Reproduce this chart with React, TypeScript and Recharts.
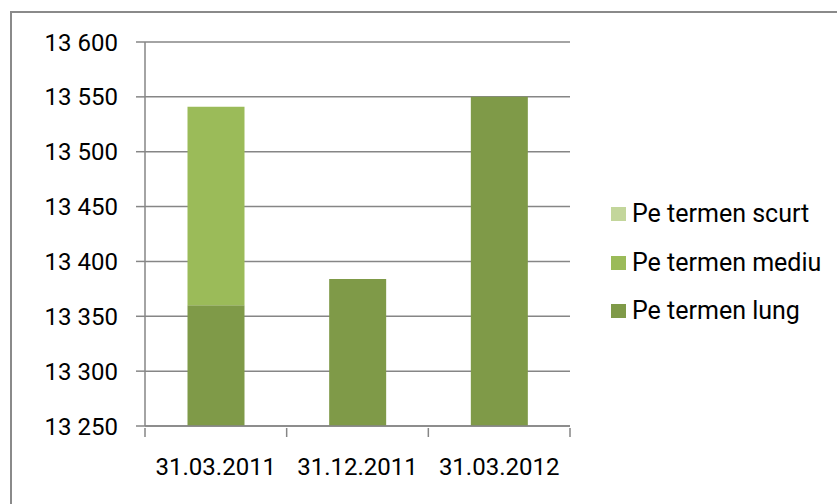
/* Stacked bars — credite pe termene */
import { BarChart, Bar, XAxis, YAxis, CartesianGrid } from 'recharts';

const categories = ['31.03.2011', '31.12.2011', '31.03.2012'];
const termenLung = [13360, 13384, 13550];
const termenMediu = [181, 0, 0];
const termenScurt = [0, 0, 0];
const yTicks = [13250, 13300, 13350, 13400, 13450, 13500, 13550, 13600];

const SERIES = [
  { key: 'lung', name: 'Pe termen lung', color: '#7f9a48' },
  { key: 'mediu', name: 'Pe termen mediu', color: '#9bbb59' },
  { key: 'scurt', name: 'Pe termen scurt', color: '#c3d69b' },
];

const data = categories.map((c, i) => ({
  name: c,
  lung: termenLung[i],
  mediu: termenMediu[i],
  scurt: termenScurt[i],
}));

const FONT = 'Roboto, "Liberation Sans", sans-serif';
const GRID = '#868686';

const fmt = (v: number) => {
  const s = String(v);
  return s.slice(0, s.length - 3) + ' ' + s.slice(-3);
};

// category label plus the tick marks on the band edges
function CatTick(props: any) {
  const { x, y, payload, index, width } = props;
  const band = width / categories.length;
  const last = index === categories.length - 1;
  return (
    <g>
      <line x1={x - band / 2} x2={x - band / 2} y1={y} y2={y + 9} stroke={GRID} strokeWidth={1.5} />
      {last && <line x1={x + band / 2} x2={x + band / 2} y1={y} y2={y + 9} stroke={GRID} strokeWidth={1.5} />}
      <text x={x} y={y + 30} dy="0.71em" textAnchor="middle" fontSize={24} fill="#000" fontFamily={FONT}>
        {payload.value}
      </text>
    </g>
  );
}

function LegendBox() {
  const items = [...SERIES].reverse();
  return (
    <div style={{ position: 'absolute', left: 611, top: 190, fontFamily: FONT }}>
      {items.map((s) => (
        <div key={s.key} style={{ display: 'flex', alignItems: 'center', height: 48.5 }}>
          <span style={{ width: 15, height: 14, background: s.color, display: 'inline-block', marginRight: 6 }} />
          <span style={{ fontSize: 25, color: '#000', lineHeight: '26px' }}>{s.name}</span>
        </div>
      ))}
    </div>
  );
}

export default function App() {
  return (
    <div style={{
      position: 'absolute', left: 0, top: 0, width: 837, height: 504,
      overflow: 'hidden', background: '#fff',
    }}>
      <div style={{
        position: 'absolute', left: 10, top: 11, width: 900, height: 600,
        border: '2px solid #8a8a8a',
      }} />
      <div style={{ position: 'absolute', left: 0, top: 0 }}>
        <BarChart width={837} height={504} data={data} barCategoryGap="30%"
          margin={{ top: 42, right: 267, bottom: 0, left: 0 }}>
          <CartesianGrid vertical={false} stroke={GRID} strokeWidth={1.5} />
          <XAxis dataKey="name" tickLine={false} tickSize={0} height={78} interval={0}
            axisLine={{ stroke: GRID, strokeWidth: 1.5 }} tick={<CatTick />} />
          <YAxis domain={[13250, 13600]} ticks={yTicks} interval={0} allowDataOverflow
            width={145} tickSize={9} tickMargin={18} tickFormatter={fmt}
            axisLine={{ stroke: GRID, strokeWidth: 1.5 }}
            tickLine={{ stroke: GRID, strokeWidth: 1.5 }}
            tick={{ fontSize: 24, fill: '#000', fontFamily: FONT }} />
          {SERIES.map((s) => (
            <Bar key={s.key} dataKey={s.key} name={s.name} stackId="a"
              fill={s.color} isAnimationActive={false} />
          ))}
        </BarChart>
      </div>
      <LegendBox />
    </div>
  );
}
